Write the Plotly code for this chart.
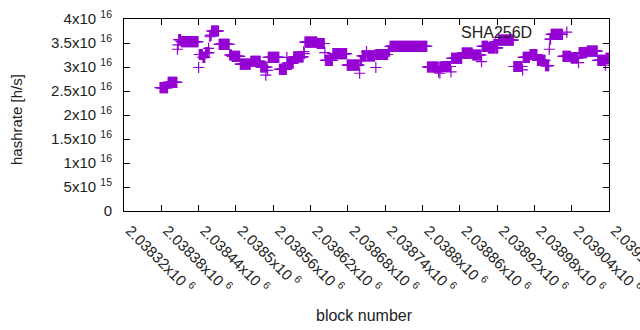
import plotly.graph_objects as go

# ---- data ----
# hashrate runs: each run starts at the given block and lasts until the next run starts
run_start_block = [
    2038378, 2038391, 2038406, 2038407, 2038408, 2038412, 2038440, 2038441, 2038447, 2038451,
    2038456, 2038457, 2038458, 2038459, 2038461, 2038473, 2038490, 2038494, 2038507, 2038524,
    2038540, 2038548, 2038549, 2038551, 2038552, 2038570, 2038582, 2038583, 2038593, 2038609,
    2038610, 2038611, 2038631, 2038643, 2038644, 2038656, 2038679, 2038699, 2038700, 2038703,
    2038710, 2038711, 2038724, 2038725, 2038726, 2038745, 2038748, 2038808, 2038826, 2038827,
    2038828, 2038829, 2038831, 2038846, 2038847, 2038864, 2038881, 2038895, 2038896, 2038906,
    2038917, 2038918, 2038922, 2038947, 2038961, 2038962, 2038973, 2038985, 2038998, 2039004,
    2039005, 2039007, 2039026, 2039039, 2039051, 2039052, 2039065, 2039082, 2039094, 2039095,
]
run_hashrate = [
    2.57e16, 2.68e16, 3.37e16, 3.46e16, 3.57e16, 3.53e16, 2.99e16, 3.26e16, 3.20e16, 3.30e16,
    3.39e16, 3.30e16, 3.63e16, 3.66e16, 3.75e16, 3.47e16, 3.25e16, 3.22e16, 3.06e16, 3.12e16,
    3.00e16, 2.83e16, 3.00e16, 2.93e16, 3.20e16, 2.95e16, 3.20e16, 3.08e16, 3.21e16, 3.32e16,
    3.28e16, 3.52e16, 3.49e16, 3.30e16, 3.14e16, 3.28e16, 3.04e16, 2.87e16, 3.13e16, 3.23e16,
    3.32e16, 3.23e16, 3.26e16, 2.99e16, 3.26e16, 3.33e16, 3.43e16, 3.00e16, 2.90e16, 3.00e16,
    2.87e16, 3.00e16, 3.01e16, 2.90e16, 3.18e16, 3.29e16, 3.25e16, 3.11e16, 3.43e16, 3.40e16,
    3.53e16, 3.40e16, 3.56e16, 3.01e16, 2.94e16, 3.20e16, 3.26e16, 3.14e16, 3.03e16, 3.37e16,
    3.58e16, 3.68e16, 3.22e16, 3.19e16, 3.09e16, 3.30e16, 3.33e16, 3.14e16, 3.04e16, 3.18e16,
]
last_block = 2039099

x_tick_vals = [2038320, 2038380, 2038440, 2038500, 2038560, 2038620, 2038680,
               2038740, 2038800, 2038860, 2038920, 2038980, 2039040, 2039100]
x_tick_text = ["2.03832x10 <sup>6</sup>", "2.03838x10 <sup>6</sup>", "2.03844x10 <sup>6</sup>",
               "2.0385x10 <sup>6</sup>", "2.03856x10 <sup>6</sup>", "2.03862x10 <sup>6</sup>",
               "2.03868x10 <sup>6</sup>", "2.03874x10 <sup>6</sup>", "2.0388x10 <sup>6</sup>",
               "2.03886x10 <sup>6</sup>", "2.03892x10 <sup>6</sup>", "2.03898x10 <sup>6</sup>",
               "2.03904x10 <sup>6</sup>", "2.0391x10 <sup>6</sup>"]
y_tick_vals = [0, 5e15, 1e16, 1.5e16, 2e16, 2.5e16, 3e16, 3.5e16, 4e16]
y_tick_text = ["0", "5x10 <sup>15</sup>", "1x10 <sup>16</sup>", "1.5x10 <sup>16</sup>",
               "2x10 <sup>16</sup>", "2.5x10 <sup>16</sup>", "3x10 <sup>16</sup>",
               "3.5x10 <sup>16</sup>", "4x10 <sup>16</sup>"]
series_name = "SHA256D"

# expand runs to one point per block
blocks, rates = [], []
ends = run_start_block[1:] + [last_block + 1]
for s, e, v in zip(run_start_block, ends, run_hashrate):
    for b in range(s, e):
        blocks.append(b)
        rates.append(v)

COLOR = "#9400D3"
FONT = "Liberation Sans, Arial, sans-serif"
TXT = "#222222"

fig = go.Figure()
fig.add_trace(go.Scatter(
    x=blocks, y=rates, mode="markers", showlegend=False, hoverinfo="skip",
    marker=dict(symbol="cross-thin", size=8, line=dict(width=1.2, color=COLOR), color=COLOR),
))
# key sample (gnuplot style: text then sample)
fig.add_trace(go.Scatter(
    x=[0.913], y=[0.932], xaxis="x2", yaxis="y2", mode="markers", showlegend=False,
    hoverinfo="skip",
    marker=dict(symbol="cross-thin", size=8, line=dict(width=1.2, color=COLOR), color=COLOR),
))

axis_common = dict(showline=True, linecolor="black", linewidth=1, mirror="allticks",
                   ticks="inside", ticklen=6, tickcolor="black", tickwidth=1,
                   showgrid=False, zeroline=False, automargin=False,
                   ticklabeloverflow="allow",
                   tickfont=dict(family=FONT, size=15, color=TXT))

pl, pr, pt, pb = 124, 609, 19, 211
def to_paper(px, py):
    return (px - pl) / (pr - pl), (pb - py) / (pb - pt)

xa, ya = to_paper(364, 315)
xb, yb = to_paper(16, 120)
xc, yc = to_paper(534, 32)

fig.update_layout(
    width=640, height=330,
    margin=dict(l=pl, r=640 - pr, t=pt, b=330 - pb, pad=0),
    paper_bgcolor="white", plot_bgcolor="white",
    xaxis=dict(range=[2038320, 2039100], tickmode="array", tickvals=x_tick_vals,
               ticktext=x_tick_text, tickangle=45, ticklabelstandoff=4,
               ticklabelshift=6, **axis_common),
    yaxis=dict(range=[0, 4e16], tickmode="array", tickvals=y_tick_vals,
               ticktext=y_tick_text, ticklabelstandoff=8, **axis_common),
    xaxis2=dict(overlaying="x", range=[0, 1], visible=False),
    yaxis2=dict(overlaying="y", range=[0, 1], visible=False),
    annotations=[
        dict(text="block number", x=xa, y=ya, xref="paper", yref="paper", showarrow=False,
             xanchor="center", yanchor="middle", font=dict(family=FONT, size=16, color=TXT)),
        dict(text="hashrate [h/s]", x=xb, y=yb, xref="paper", yref="paper", textangle=-90,
             xanchor="center", yanchor="middle",
             showarrow=False, font=dict(family=FONT, size=15, color=TXT)),
        dict(text=series_name, x=xc, y=yc, xref="paper", yref="paper", showarrow=False,
             xanchor="right", yanchor="middle", font=dict(family=FONT, size=16, color=TXT)),
    ],
)

fig.write_html("out.html", config={"displayModeBar": False},
               post_script="document.body.style.margin='0';")
